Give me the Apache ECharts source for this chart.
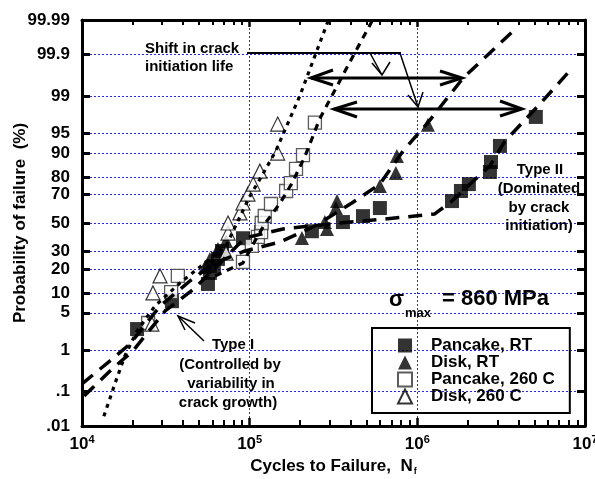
<!DOCTYPE html>
<html>
<head>
<meta charset="utf-8">
<script src="https://cdn.jsdelivr.net/npm/echarts@6/dist/echarts.min.js"></script>
<style>
  html, body { margin: 0; padding: 0; background: #fff; }
  #chart { width: 595px; height: 479px; }
</style>
</head>
<body>
<div id="chart"></div>
<script>
// Fatigue life (cycles to failure) vs. cumulative probability of failure (%)
const pancakeRT_N = [21300, 34400, 56400, 57900, 61200, 64700, 68400, 91200, 235000, 360000, 474000, 598000, 1610000, 1820000, 2030000, 2710000, 2750000, 3110000, 5090000];
const pancakeRT_P = [2.6, 7.6, 13.2, 18, 21.5, 25.5, 30.4, 39, 44, 50.7, 55, 60.8, 65.6, 72.1, 76.2, 82.5, 86.8, 92.1, 97.4];

const diskRT_N = [54100, 57900, 64700, 72300, 205000, 281000, 289000, 327000, 332000, 598000, 745000, 755000, 1156000];
const diskRT_P = [21, 25.5, 31.7, 37, 39.2, 50.7, 45.6, 60.8, 65.6, 75.1, 82, 89, 96.4];

const pancake260_N = [24800, 34000, 37300, 91200, 103000, 112000, 117000, 118000, 123000, 134000, 165000, 176000, 189000, 208000, 245000];
const pancake260_P = [3.35, 10.3, 16.6, 23.8, 33.7, 39.9, 43.4, 50, 55.1, 63.6, 72.1, 76.8, 83.9, 89.3, 96.7];

const disk260_N = [26100, 26500, 29200, 72300, 74300, 74300, 87500, 91200, 97700, 105000, 115000, 147000, 147000];
const disk260_P = [3.2, 10, 16.6, 29, 42.7, 50, 57.3, 64.3, 70.2, 76.2, 82.9, 90, 96.5];

// Fitted distribution curves
const fitDisk260_N = [13500, 15700, 18000, 21300, 27200, 38400, 54100, 72300, 85100, 100400, 118000, 143000, 199000, 293000];
const fitDisk260_P = [0.02, 0.16, 0.74, 2.4, 6.4, 13.6, 23.2, 33.7, 51.5, 68.9, 80.5, 90.6, 99.0, 99.989];

const fitPancake260_N = [62100, 91200, 105000, 123000, 152000, 179000, 214000, 262000, 370000, 536000];
const fitPancake260_P = [16.6, 23.2, 35, 49.3, 64.3, 76.8, 89, 97.2, 99.73, 99.989];

const fitDiskRT_N = [10000, 14700, 19300, 29200, 44000, 62100, 93800, 152000, 245000, 407000, 598000, 820000, 1156000, 1870000, 3720000];
const fitDiskRT_P = [0.16, 0.58, 1.33, 6.4, 14.4, 23.2, 30.4, 36.4, 47.8, 64.3, 76.2, 90.6, 96.7, 99.6, 99.978];

const fitPancakeRT_N = [10300, 15100, 20100, 31300, 47200, 66500, 93800, 158000, 301000, 641000, 1270000, 1610000, 2060000, 2710000, 3330000, 5380000, 8360000];
const fitPancakeRT_P = [0.077, 0.375, 0.95, 5.35, 11.7, 23.2, 39.2, 45.6, 49.3, 52.9, 56.6, 65.6, 76.2, 85.2, 93.3, 98.53, 99.77];

// Probability axis ticks
const probTicks = [0.01, 0.1, 1, 5, 10, 20, 30, 50, 70, 80, 90, 95, 99, 99.9, 99.99];
const probTickLabels = ['.01', '.1', '1', '5', '10', '20', '30', '50', '70', '80', '90', '95', '99', '99.9', '99.99'];

const FONT = '"Liberation Sans", Arial, Helvetica, sans-serif';

// Inverse standard normal CDF (Acklam) – maps probability to the normal-probability scale
function probit(p) {
  const a = [-3.969683028665376e+01, 2.209460984245205e+02, -2.759285104469687e+02, 1.383577518672690e+02, -3.066479806614716e+01, 2.506628277459239e+00];
  const b = [-5.447609879822406e+01, 1.615858368580409e+02, -1.556989798598866e+02, 6.680131188771972e+01, -1.328068155288572e+01];
  const c = [-7.784894002430293e-03, -3.223964580411365e-01, -2.400758277161838e+00, -2.549671010994064e+00, 4.374664141464968e+00, 2.938163982698783e+00];
  const d = [7.784695709041462e-03, 3.224671290700398e-01, 2.445134137142996e+00, 3.754408661907416e+00];
  const pl = 0.02425, ph = 1 - pl;
  let q, r;
  if (p < pl) {
    q = Math.sqrt(-2 * Math.log(p));
    return (((((c[0]*q+c[1])*q+c[2])*q+c[3])*q+c[4])*q+c[5]) / ((((d[0]*q+d[1])*q+d[2])*q+d[3])*q+1);
  }
  if (p <= ph) {
    q = p - 0.5; r = q * q;
    return (((((a[0]*r+a[1])*r+a[2])*r+a[3])*r+a[4])*r+a[5])*q / (((((b[0]*r+b[1])*r+b[2])*r+b[3])*r+b[4])*r+1);
  }
  q = Math.sqrt(-2 * Math.log(1 - p));
  return -(((((c[0]*q+c[1])*q+c[2])*q+c[3])*q+c[4])*q+c[5]) / ((((d[0]*q+d[1])*q+d[2])*q+d[3])*q+1);
}
const z = pct => probit(pct / 100);
const pairs = (N, P) => N.map((n, i) => [n, z(P[i])]);

const zTicks = probTicks.map(z);
const zMin = zTicks[0], zMax = zTicks[zTicks.length - 1];

// minor ticks on the log cycles axis (2..9 in each decade)
const minorCycleTicks = [];
for (let e = 4; e < 7; e++) for (let m = 2; m <= 9; m++) minorCycleTicks.push(m * Math.pow(10, e));

const chart = echarts.init(document.getElementById('chart'), null, { renderer: 'canvas' });

const gridStyle = { color: '#2323ff', width: 1, type: [2, 2] };
const blackAxis = { color: '#000', width: 3 };

function logAxis(extra) {
  return Object.assign({
    type: 'log', logBase: 10, min: 1e4, max: 1e7, gridIndex: 0,
    axisLine: { show: false, onZero: false },
    axisLabel: { show: false },
    splitLine: { show: false },
    axisTick: { show: false }
  }, extra);
}

const fitLine = (name, N, P, dash, width) => ({
  name, type: 'line', data: pairs(N, P), showSymbol: false, silent: true, z: 5,
  lineStyle: { color: '#000', width, type: dash, cap: 'butt' }
});

const option = {
  animation: false,
  backgroundColor: '#fff',
  grid: { left: 82, right: 10, top: 20, bottom: 53, containLabel: false, outerBoundsMode: 'none' },
  xAxis: [
    logAxis({
      position: 'bottom',
      axisLine: { show: true, onZero: false, lineStyle: blackAxis },
      axisTick: { show: true, inside: true, length: 8, lineStyle: { color: '#000', width: 2.5 } },
      axisLabel: {
        show: true, margin: 8,
        formatter: v => '{b|10}{s|' + Math.round(Math.log10(v)) + '}',
        rich: {
          b: { fontSize: 17, fontWeight: 'bold', fontFamily: FONT, color: '#000', lineHeight: 20 },
          s: { fontSize: 11, fontWeight: 'bold', fontFamily: FONT, color: '#000', verticalAlign: 'top', lineHeight: 14 }
        }
      },
      splitLine: { show: true, lineStyle: gridStyle },
      name: '{a|Cycles to Failure,  N}{f|f}',
      nameLocation: 'middle', nameGap: 31, nameMoveOverlap: false,
      nameTextStyle: {
        rich: {
          a: { fontSize: 17, fontWeight: 'bold', fontFamily: FONT, color: '#000' },
          f: { fontSize: 9, fontWeight: 'bold', fontFamily: FONT, color: '#000', padding: [10, 0, 0, 1] }
        }
      }
    }),
    logAxis({
      position: 'bottom',
      axisTick: { show: true, inside: true, length: 6, customValues: minorCycleTicks, lineStyle: { color: '#000', width: 2 } }
    }),
    logAxis({
      position: 'top',
      axisLine: { show: true, onZero: false, lineStyle: blackAxis },
      axisTick: { show: true, inside: true, length: 7, lineStyle: { color: '#000', width: 2.5 } }
    }),
    logAxis({
      position: 'top',
      axisTick: { show: true, inside: true, length: 5, customValues: minorCycleTicks, lineStyle: { color: '#000', width: 2 } }
    })
  ],
  yAxis: [
    {
      type: 'value', min: zMin, max: zMax, position: 'left',
      axisLine: { show: true, onZero: false, lineStyle: blackAxis },
      axisTick: { show: true, inside: true, length: 8, customValues: zTicks, lineStyle: { color: '#000', width: 3 } },
      axisLabel: {
        show: true, customValues: zTicks, margin: 12,
        fontSize: 17, fontWeight: 'bold', fontFamily: FONT, color: '#000',
        formatter: v => {
          let best = 0;
          zTicks.forEach((t, i) => { if (Math.abs(t - v) < Math.abs(zTicks[best] - v)) best = i; });
          return probTickLabels[best];
        }
      },
      splitLine: { show: true, lineStyle: gridStyle },
      name: 'Probability of failure  (%)',
      nameLocation: 'middle', nameGap: 53, nameRotate: 90, nameMoveOverlap: false,
      nameTextStyle: { fontSize: 17, fontWeight: 'bold', fontFamily: FONT, color: '#000' }
    },
    {
      type: 'value', min: zMin, max: zMax, position: 'right',
      axisLine: { show: true, onZero: false, lineStyle: blackAxis },
      axisTick: { show: true, inside: true, length: 8, customValues: zTicks, lineStyle: { color: '#000', width: 3 } },
      axisLabel: { show: false },
      splitLine: { show: false }
    }
  ],
  legend: {
    orient: 'vertical', left: 372, top: 328,
    padding: [9, 15, 8, 25],
    itemWidth: 14, itemHeight: 14, itemGap: 0,
    borderColor: '#000', borderWidth: 2,
    selectedMode: false,
    data: ['Pancake, RT', 'Disk, RT', 'Pancake, 260 C', 'Disk, 260 C'],
    textStyle: { fontSize: 17, fontWeight: 'bold', fontFamily: FONT, color: '#000', padding: [0, 0, 0, 14] }
  },
  series: [
    {
      name: 'Pancake, RT', type: 'scatter', symbol: 'rect', symbolSize: 14, z: 2,
      itemStyle: { color: '#000' }, data: pairs(pancakeRT_N, pancakeRT_P)
    },
    {
      name: 'Disk, RT', type: 'scatter', symbol: 'triangle', symbolSize: 14, z: 2,
      itemStyle: { color: '#000' }, data: pairs(diskRT_N, diskRT_P)
    },
    {
      name: 'Pancake, 260 C', type: 'scatter', symbol: 'rect', symbolSize: 13, z: 3,
      itemStyle: { color: '#fff', borderColor: '#333', borderWidth: 1.3 }, data: pairs(pancake260_N, pancake260_P)
    },
    {
      name: 'Disk, 260 C', type: 'scatter', symbol: 'triangle', symbolSize: 14, z: 3,
      itemStyle: { color: '#fff', borderColor: '#000', borderWidth: 1.2 }, data: pairs(disk260_N, disk260_P)
    },
    fitLine('fit Disk 260 C', fitDisk260_N, fitDisk260_P, [4, 5], 3.2),
    fitLine('fit Pancake 260 C', fitPancake260_N, fitPancake260_P, [7, 6], 3.2),
    fitLine('fit Disk RT', fitDiskRT_N, fitDiskRT_P, [14, 9], 3.5),
    fitLine('fit Pancake RT', fitPancakeRT_N, fitPancakeRT_P, [14, 9], 3.5)
  ],
  graphic: [
    // shift-in-initiation-life annotation
    { type: 'text', z: 100, style: { text: 'Shift in crack', x: 145, y: 49, font: 'bold 15px ' + FONT, fill: '#000', textVerticalAlign: 'middle' } },
    { type: 'text', z: 100, style: { text: 'initiation life', x: 145, y: 67, font: 'bold 15px ' + FONT, fill: '#000', textVerticalAlign: 'middle' } },
    { type: 'line', z: 100, shape: { x1: 247, y1: 53, x2: 401, y2: 53 }, style: { stroke: '#000', lineWidth: 2 } },
    { type: 'line', z: 100, shape: { x1: 370, y1: 53, x2: 382, y2: 75 }, style: { stroke: '#000', lineWidth: 1.5 } },
    { type: 'polyline', z: 100, shape: { points: [[372, 63], [382, 75], [390, 62]] }, style: { stroke: '#000', lineWidth: 1.5, fill: null } },
    { type: 'line', z: 100, shape: { x1: 400, y1: 53, x2: 418, y2: 107 }, style: { stroke: '#000', lineWidth: 1.5 } },
    { type: 'polyline', z: 100, shape: { points: [[408, 95], [418, 107], [423, 92]] }, style: { stroke: '#000', lineWidth: 1.5, fill: null } },
    // double-headed arrows
    { type: 'line', z: 100, shape: { x1: 311, y1: 78, x2: 461, y2: 78 }, style: { stroke: '#000', lineWidth: 3 } },
    { type: 'polyline', z: 100, shape: { points: [[333, 70], [311, 78], [333, 85]] }, style: { stroke: '#000', lineWidth: 3, fill: null } },
    { type: 'polyline', z: 100, shape: { points: [[440, 71], [462, 78], [440, 85]] }, style: { stroke: '#000', lineWidth: 3, fill: null } },
    { type: 'line', z: 100, shape: { x1: 334, y1: 109, x2: 521, y2: 109 }, style: { stroke: '#000', lineWidth: 3 } },
    { type: 'polyline', z: 100, shape: { points: [[357, 102], [334, 109], [357, 117]] }, style: { stroke: '#000', lineWidth: 3, fill: null } },
    { type: 'polyline', z: 100, shape: { points: [[500, 101], [522, 109], [500, 116]] }, style: { stroke: '#000', lineWidth: 3, fill: null } },
    // Type II
    { type: 'text', z: 100, style: { text: 'Type II', x: 540, y: 170, font: 'bold 15px ' + FONT, fill: '#000', textAlign: 'center', textVerticalAlign: 'middle' } },
    { type: 'text', z: 100, style: { text: '(Dominated', x: 539, y: 189, font: 'bold 15px ' + FONT, fill: '#000', textAlign: 'center', textVerticalAlign: 'middle' } },
    { type: 'text', z: 100, style: { text: 'by crack', x: 539, y: 208, font: 'bold 15px ' + FONT, fill: '#000', textAlign: 'center', textVerticalAlign: 'middle' } },
    { type: 'text', z: 100, style: { text: 'initiation)', x: 539, y: 226, font: 'bold 15px ' + FONT, fill: '#000', textAlign: 'center', textVerticalAlign: 'middle' } },
    // Type I
    { type: 'line', z: 100, shape: { x1: 204, y1: 341, x2: 178, y2: 316 }, style: { stroke: '#000', lineWidth: 1.5 } },
    { type: 'polyline', z: 100, shape: { points: [[185, 330], [178, 316], [195, 323]] }, style: { stroke: '#000', lineWidth: 1.5, fill: null } },
    { type: 'text', z: 100, style: { text: 'Type I', x: 233, y: 345, font: 'bold 15px ' + FONT, fill: '#000', textAlign: 'center', textVerticalAlign: 'middle' } },
    { type: 'text', z: 100, style: { text: '(Controlled by', x: 230, y: 365, font: 'bold 15px ' + FONT, fill: '#000', textAlign: 'center', textVerticalAlign: 'middle' } },
    { type: 'text', z: 100, style: { text: 'variability in', x: 231, y: 384, font: 'bold 15px ' + FONT, fill: '#000', textAlign: 'center', textVerticalAlign: 'middle' } },
    { type: 'text', z: 100, style: { text: 'crack growth)', x: 228, y: 403, font: 'bold 15px ' + FONT, fill: '#000', textAlign: 'center', textVerticalAlign: 'middle' } },
    // stress level
    { type: 'text', z: 100, style: { text: 'σ', x: 404, y: 300, font: 'bold 22px ' + FONT, fill: '#000', textAlign: 'right', textVerticalAlign: 'middle' } },
    { type: 'text', z: 100, style: { text: 'max', x: 405, y: 313, font: 'bold 13px ' + FONT, fill: '#000', textVerticalAlign: 'middle' } },
    { type: 'text', z: 100, style: { text: '= 860 MPa', x: 442, y: 299, font: 'bold 22px ' + FONT, fill: '#000', textVerticalAlign: 'middle' } }
  ]
};

chart.setOption(option);
</script>
</body>
</html>
